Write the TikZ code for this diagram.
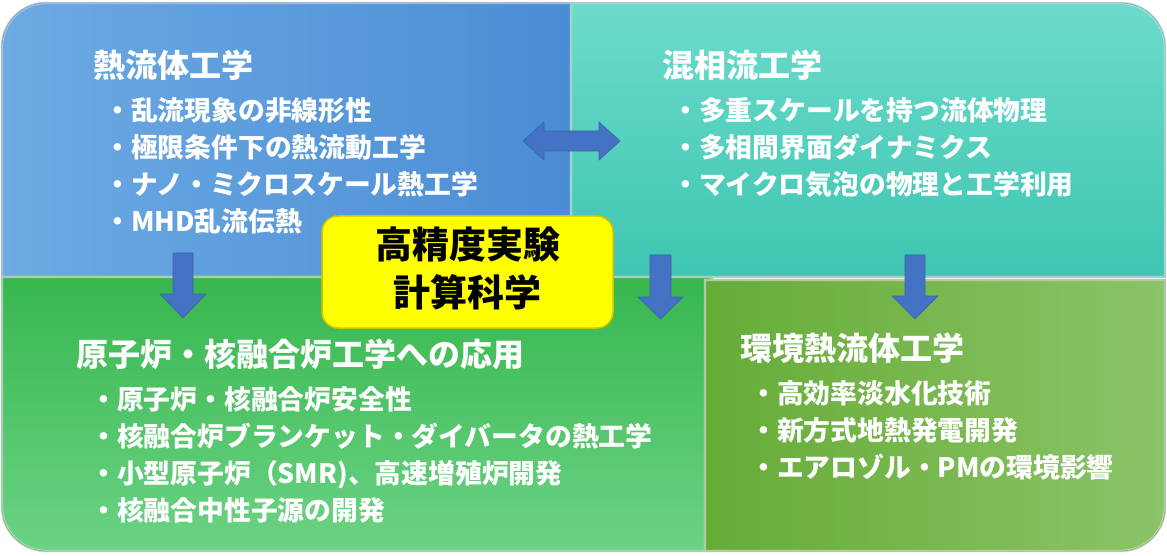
\documentclass[tikz,border=0pt]{standalone}
\usepackage{fontspec}
\setmainfont{Noto Sans CJK JP}
\definecolor{arrowblue}{HTML}{4472C4}
\definecolor{blueL}{HTML}{6DAAE3}
\definecolor{blueR}{HTML}{4A8DD5}
\definecolor{tealT}{HTML}{6CDBCB}
\definecolor{tealB}{HTML}{3EC5B2}
\definecolor{greenT}{HTML}{37B74E}
\definecolor{greenB}{HTML}{6CD385}
\definecolor{oliveL}{HTML}{66AC37}
\definecolor{oliveR}{HTML}{8BC468}
\definecolor{yel}{HTML}{FFFF00}
\definecolor{yelB}{HTML}{D2C400}
\tikzset{
  headtxt/.style={text=white, font=\fontsize{32}{38}\selectfont\bfseries, anchor=base west, inner sep=0pt},
  itemtxt/.style={text=white, font=\fontsize{26.8}{32}\selectfont\bfseries, anchor=base west, inner sep=0pt},
  centertxt/.style={text=black, font=\fontsize{37}{44}\selectfont\bfseries, anchor=base, inner sep=0pt},
  blockarrow/.style={fill=arrowblue, draw=arrowblue!85!black, line width=0.6pt},
  rim/.style={draw=#1, line width=2.4pt},
  edge/.style={draw=gray!75, line width=0.7pt}
}
\begin{document}
\begin{tikzpicture}[x=1pt,y=1pt]
\useasboundingbox (0,0) rectangle (1167,555);
% blue box (top-left)
\def\bluepath{(2,278) -- (2,508) arc(180:90:44) -- (574,552) -- (574,278) -- cycle}
\shade[left color=blueL, right color=blueR] \bluepath;
\path[rim=blueL!60!white] \bluepath;
\path[edge] \bluepath;
% teal box (top-right)
\def\tealpath{(571,278) -- (571,552) -- (1121,552) arc(90:0:44) -- (1165,278) -- cycle}
\shade[top color=tealT, bottom color=tealB] \tealpath;
\path[rim=tealT!55!white] \tealpath;
\path[edge] \tealpath;
% green box (bottom-left)
\def\greenpath{(2,278) -- (712,278) -- (712,4) -- (46,4) arc(270:180:44) -- cycle}
\shade[top color=greenT, bottom color=greenB] \greenpath;
\path[rim=greenB!55!white] \greenpath;
\path[edge] \greenpath;
% olive box (bottom-right)
\def\olivepath{(705,275) -- (1165,275) -- (1165,48) arc(0:-90:44) -- (705,4) -- cycle}
\shade[left color=oliveL, right color=oliveR] \olivepath;
\path[rim=oliveR!55!white] \olivepath;
\path[edge] \olivepath;
% block arrows
\draw[blockarrow] (523,414) -- (544,433) -- (544,424) -- (599,424) -- (599,433) -- (620,414) -- (599,395) -- (599,404) -- (544,404) -- (544,395) -- cycle;
\draw[blockarrow] (173,302) -- (193,302) -- (193,261) -- (206,261) -- (183,237) -- (160,261) -- (173,261) -- cycle;
\draw[blockarrow] (650,300) -- (671,300) -- (671,258) -- (683,258) -- (660.5,236) -- (638,258) -- (650,258) -- cycle;
\draw[blockarrow] (905,300) -- (925,300) -- (925,259) -- (938,259) -- (915,236) -- (892,259) -- (905,259) -- cycle;
% center yellow box
\node[draw=yelB, fill=yel, line width=1.5pt, rounded corners=16pt, minimum width=291pt, minimum height=112pt, inner sep=0pt] (core) at (467.5,283) {};
\node[centertxt] (c1) at (467.5,296) {高精度実験};
\node[centertxt] (c2) at (467.5,248) {計算科学};
% texts top-left
\node[headtxt] (h1) at (93,477) {熱流体工学};
\node[itemtxt] (a1) at (104,434) {・乱流現象の非線形性};
\node[itemtxt] (a2) at (104,397) {・極限条件下の熱流動工学};
\node[itemtxt] (a3) at (104,360) {・ナノ・ミクロスケール熱工学};
\node[itemtxt] (a4) at (104,323) {・MHD乱流伝熱};
% texts top-right
\node[headtxt] (h2) at (662,477) {混相流工学};
\node[itemtxt] (b1) at (672,434) {・多重スケールを持つ流体物理};
\node[itemtxt] (b2) at (672,397) {・多相間界面ダイナミクス};
\node[itemtxt] (b3) at (672,360) {・マイクロ気泡の物理と工学利用};
% texts bottom-left
\node[headtxt] (h3) at (76,189) {原子炉・核融合炉工学への応用};
\node[itemtxt] (d1) at (90,146) {・原子炉・核融合炉安全性};
\node[itemtxt] (d2) at (90,109) {・核融合炉ブランケット・ダイバータの熱工学};
\node[itemtxt] (d3) at (90,72) {・小型原子炉（SMR)、高速増殖炉開発};
\node[itemtxt] (d4) at (90,35) {・核融合中性子源の開発};
% texts bottom-right
\node[headtxt] (h4) at (740,195) {環境熱流体工学};
\node[itemtxt] (e1) at (750,152) {・高効率淡水化技術};
\node[itemtxt] (e2) at (750,115) {・新方式地熱発電開発};
\node[itemtxt] (e3) at (750,78) {・エアロゾル・PMの環境影響};
\end{tikzpicture}
\end{document}
